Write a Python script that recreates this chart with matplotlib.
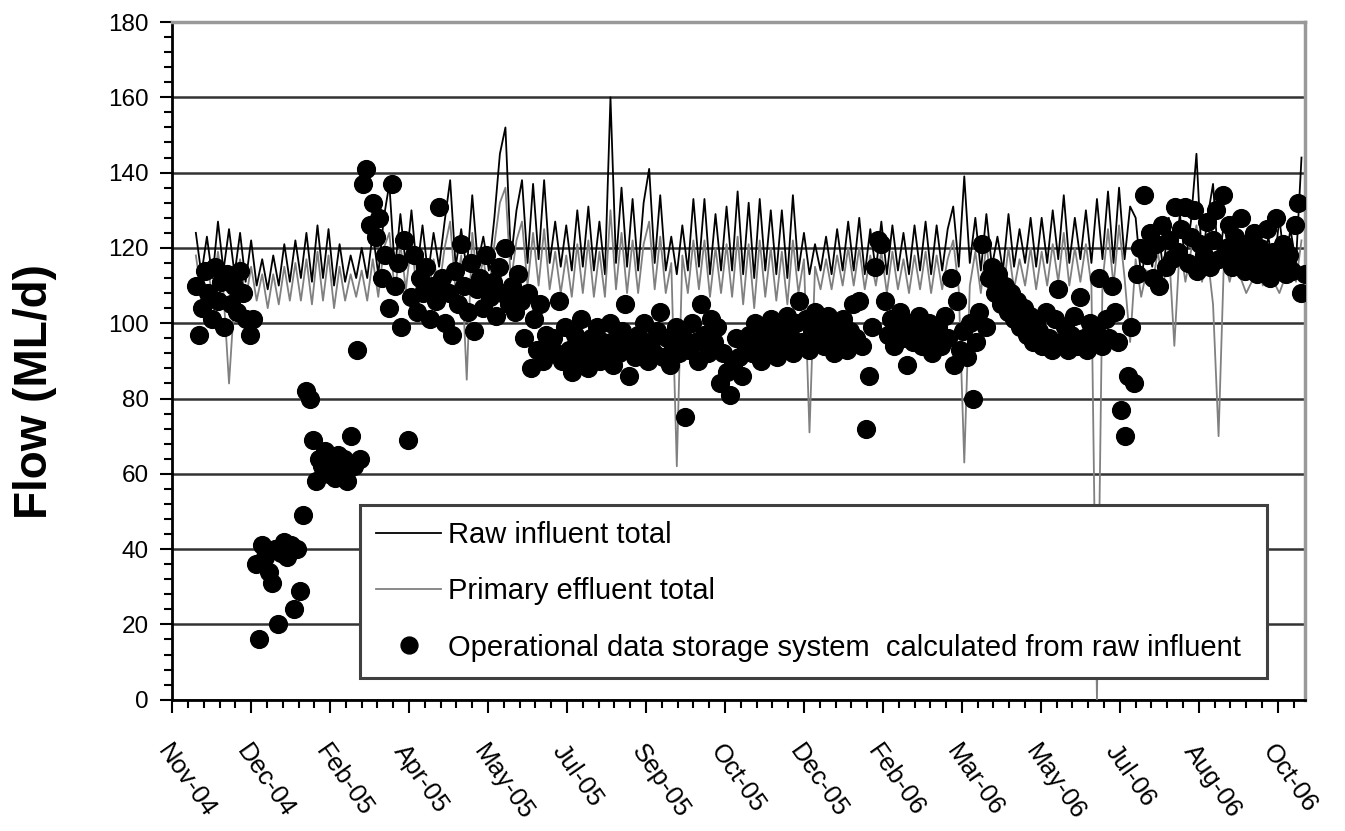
import numpy as np
import pandas as pd
import matplotlib
matplotlib.use("Agg")
import matplotlib.pyplot as plt
import matplotlib.dates as mdates

plt.rcParams['font.family'] = ['Liberation Sans', 'DejaVu Sans']

# Date axis: Excel-style, major unit 50 days, minor 10 days
axis_start = pd.Timestamp("2004-11-10")
axis_end = pd.Timestamp("2006-10-28")
line_start = "2004-11-25"

# Raw influent total (ML/d), one value every 3.5 days
raw_flow = [
    124, 113, 123, 112, 127, 114, 125, 113, 124, 111, 122,
    110, 117, 109, 118, 110, 121, 111, 122, 112, 124, 111, 126, 112, 125, 110, 121, 111, 118, 112, 120,
    112, 124, 113, 128, 137, 114, 129, 115, 130, 114, 126, 113, 124, 115, 127, 138, 115, 125, 114, 134,
    116, 123, 114, 128, 145, 152, 117, 130, 138, 116,
    137, 117, 138, 116, 127, 115, 126, 114, 130, 115, 131, 114, 127, 113, 160, 116, 136, 115, 133, 114,
    132, 141, 116, 134, 114, 123, 113, 126, 114, 133, 115, 133, 113, 129, 114,
    131, 114, 135, 113, 132, 112, 133, 114, 130, 113, 130, 112, 134, 114, 124, 113, 121, 114, 123, 113,
    125, 114, 127,
    114, 128, 113, 125, 114, 127, 113, 126, 114, 124, 113, 126, 114, 127, 113, 126, 114, 125, 131, 115,
    139, 116,
    128, 114, 129, 115, 123, 114, 129, 115, 125, 116, 128, 115, 128, 116, 130, 117, 134, 116, 128, 117,
    130, 116, 133, 117, 135, 116, 136, 117, 131, 128, 112, 121,
    115, 126, 114, 128, 115, 129, 116, 127, 145, 116, 128, 137, 115, 127, 116, 125, 115, 124, 114, 126,
    115, 123, 114, 128, 115, 125, 116, 144,
]

# Primary effluent total (ML/d), same dates
primary_flow = [
    118, 108, 116, 107, 119, 108, 84, 107, 117, 106, 115,
    106, 113, 104, 113, 105, 115, 106, 116, 106, 117, 105, 119, 106, 118, 104, 115, 106, 113, 107, 114,
    106, 117, 107, 120, 124, 108, 121, 109, 122, 108, 119, 107, 117, 109, 120, 127, 108, 118, 85, 124,
    110, 117, 108, 121, 132, 136, 111, 122, 127, 110,
    124, 110, 125, 109, 119, 108, 118, 107, 121, 108, 122, 107, 119, 107, 130, 109, 124, 108, 122, 108,
    121, 127, 109, 123, 108, 116, 62, 118, 108, 122, 109, 122, 107, 120, 108,
    121, 107, 123, 105, 121, 104, 122, 107, 120, 106, 119, 105, 122, 108, 117, 71, 115, 109, 117, 109,
    118, 110, 120,
    110, 120, 109, 118, 110, 119, 108, 119, 109, 117, 108, 118, 109, 119, 108, 118, 109, 117, 122, 109,
    63, 110,
    119, 108, 121, 109, 116, 108, 120, 109, 117, 110, 120, 109, 119, 110, 121, 111, 124, 110, 120, 111,
    121, 110, 0, 111, 125, 110, 126, 112, 95, 117, 107, 114,
    110, 119, 110, 120, 94, 121, 111, 119, 126, 111, 118, 105, 70, 118, 111, 117, 112, 108, 111, 118,
    110, 116, 111, 108, 112, 117, 111, 122,
]

# Operational data storage system, calculated from raw influent (ML/d), every 2 days
ods_flow = [
    110, 97, 104, 114, 108, 101, 115, 106, 111, 99, 113, 105, 110, 103, 114, 108, 101, 97,
    101, 36, 16, 41, 38, 34, 31, 40, 20, 39, 42, 38, 41, 24, 40, 29, 49, 82, 80, 69,
    58, 64, 62, 66, 60, 63, 59, 65, 61, 64, 58, 70, 62, 93, 64,
    137, 141, 126, 132, 123, 128, 112, 118, 104, 137, 110, 116, 99, 122, 69, 107, 118, 103, 112, 108,
    115, 101, 110, 106, 131, 112, 100, 108, 97, 114, 105, 121, 110, 103, 116, 98, 109, 112, 104, 118,
    107, 111, 102, 115, 108, 120, 105, 110, 103, 113, 106, 96, 108, 88, 101, 93, 105, 90, 97, 94,
    96, 92, 106, 90, 99, 93, 87, 97, 91, 101, 94, 88, 96, 92, 99, 90, 95, 93, 100, 89,
    96, 92, 98, 105, 86, 94, 91, 97, 93, 100, 90, 95, 92, 98, 103, 91, 96, 89, 94, 99,
    92, 97, 75, 93, 100, 95, 90, 105, 97, 92, 101, 95, 99, 84, 92, 87, 81, 89, 96, 91, 86, 93,
    97, 92, 100, 95, 90, 98, 93, 101, 96, 91, 99, 94, 102, 97, 92, 100, 106, 95, 101, 93,
    98, 103, 96, 100, 94, 102, 97, 92, 99, 95, 101, 93, 98, 105, 96, 106, 94, 72, 86, 99,
    115, 122, 121, 106, 97, 101, 94, 99, 103, 96, 89, 100, 95, 98, 102, 94, 97, 100, 92, 96,
    99, 94, 102, 96, 112, 89, 106, 93, 98, 91, 100, 80, 95, 103, 121, 99, 112, 115, 108, 113,
    105, 110, 103, 108, 101, 106, 99, 104, 97, 102, 95, 100, 98, 94, 103, 96, 93, 101, 109, 95,
    99, 93, 97, 102, 94, 107, 96, 93, 100, 95, 98, 112, 94, 101, 96, 110, 103, 95, 77, 70,
    86, 99, 84, 113, 120, 134, 118, 124, 112, 121, 110, 126, 115, 122, 117, 131, 119, 125, 131, 116,
    123, 130, 114, 121, 118, 127, 115, 122, 130, 117, 134, 120, 126, 115, 123, 118, 128, 114, 121, 117,
    124, 113, 120, 116, 125, 112, 119, 128, 115, 121, 113, 118, 114, 126, 132, 108, 113,
]

raw_dates = pd.date_range(line_start, periods=len(raw_flow), freq="84h")
ods_dates = pd.date_range(line_start, periods=len(ods_flow), freq="2D")

fig = plt.figure(figsize=(13.45, 8.31), dpi=100)
ax = fig.add_axes([0.128, 0.158, 0.842, 0.8155])

ax.plot(raw_dates, raw_flow, color="black", lw=1.3, zorder=3, label="Raw influent total")
ax.plot(raw_dates, primary_flow, color="#808080", lw=1.3, zorder=3, label="Primary effluent total")
ax.plot(ods_dates, ods_flow, ls="none", marker="o", ms=12.8, color="black", zorder=4,
        label="Operational data storage system  calculated from raw influent")

ax.set_ylim(0, 180)
ax.set_xlim(axis_start, axis_end)
ax.set_yticks(np.arange(0, 181, 20))
ax.set_yticks(np.arange(0, 181, 4), minor=True)
ax.set_xticks([axis_start + pd.Timedelta(days=50 * k) for k in range(15)])
ax.set_xticks([axis_start + pd.Timedelta(days=10 * k) for k in range(72)], minor=True)
ax.xaxis.set_major_formatter(mdates.DateFormatter("%b-%y"))

ax.yaxis.grid(True, color="#333333", lw=1.8)
ax.set_axisbelow(True)

for s in ["left", "bottom"]:
    ax.spines[s].set_color("black")
    ax.spines[s].set_linewidth(2)
for s in ["top", "right"]:
    ax.spines[s].set_color("#999999")
    ax.spines[s].set_linewidth(2.5)

ax.tick_params(axis="both", which="major", direction="out", length=9, width=1.5)
ax.tick_params(axis="both", which="minor", direction="out", length=6, width=1.5)
ax.tick_params(axis="y", labelsize=17.5, pad=8)
ax.tick_params(axis="x", labelsize=18.5, pad=20)
for lab in ax.get_xticklabels():
    lab.set_rotation(-55)
    lab.set_ha("left")
    lab.set_va("top")
    lab.set_rotation_mode("anchor")

ax.set_ylabel("Flow (ML/d)", fontsize=33, fontweight="bold")
ax.yaxis.set_label_coords(-0.102, 0.454)

leg = ax.legend(loc="lower left", bbox_to_anchor=(0.166, 0.032, 0.801, 0.256), mode="expand",
                borderaxespad=0, fontsize=21, frameon=True, fancybox=False, edgecolor="#404040",
                handlelength=2.2, handletextpad=0.25, labelspacing=0.97, borderpad=0.56,
                markerscale=0.95, framealpha=1)
leg.get_frame().set_linewidth(2.2)

fig.savefig("out.png", dpi=100)
